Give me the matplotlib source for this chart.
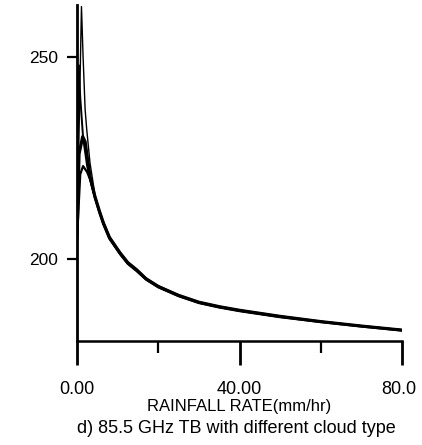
import matplotlib
matplotlib.use("Agg")
import matplotlib.pyplot as plt
from matplotlib.ticker import FixedLocator
from matplotlib.transforms import ScaledTranslation

plt.rcParams['font.family'] = ['Liberation Sans', 'DejaVu Sans']

# Data: 85.5 GHz brightness temperature vs rainfall rate, different cloud types
rain_a = [0.0, 1.1, 1.5, 2.0, 2.4, 3.2, 4.4, 5.5, 6.5, 8.0, 10.6, 12.5, 14.7, 17, 20, 25, 30, 35, 40, 50, 60, 70, 80]
tb_a = [205, 262.5, 250, 237, 232, 223.8, 216.0, 212.2, 209.3, 205.6, 201.7, 199.3, 197.5, 195.3, 193.4, 191.1, 189.4, 188.3, 187.4, 185.9, 184.6, 183.5, 182.5]

rain_b = [0.0, 0.5, 1.4, 2.0, 3.2, 4.4, 5.5, 6.5, 8.0, 10.6, 12.5, 14.7, 17, 20, 25, 30, 35, 40, 50, 60, 70, 80]
tb_b = [205, 226, 230.3, 229, 220.4, 215.5, 211.9, 208.9, 205.3, 201.5, 199.1, 197.3, 195.1, 193.2, 191.0, 189.3, 188.2, 187.3, 185.8, 184.5, 183.4, 182.4]

rain_c = [0.0, 0.8, 1.5, 2.5, 3.5, 4.4, 5.5, 6.5, 8.0, 10.6, 12.5, 14.7, 17, 20, 25, 30, 35, 40, 50, 60, 70, 80]
tb_c = [205, 221, 223, 221.5, 219, 215.2, 211.6, 208.6, 205.0, 201.2, 198.8, 197.0, 194.9, 193.0, 190.8, 189.1, 188.0, 187.1, 185.6, 184.4, 183.3, 182.3]

rain_d = [0.0, 0.4, 0.8, 1.5, 2.5, 3.5, 4.4, 5.5, 6.5, 8.0, 10.6, 12.5, 14.7, 17, 20, 25, 30, 35, 40, 50, 60, 70, 80]
tb_d = [205, 248, 240, 230, 223, 218.5, 215.3, 211.7, 208.7, 205.1, 201.3, 198.9, 197.1, 195.0, 193.1, 190.9, 189.2, 188.1, 187.2, 185.7, 184.5, 183.4, 182.4]

x_major = [0, 40, 80]
x_minor = [20, 60]
x_labels = ["0.00", "40.00", "80.0"]
y_ticks = [200, 250]
y_labels = ["200", "250"]

W, H = 422, 445
fig = plt.figure(figsize=(W / 100, H / 100), dpi=100)
ax = fig.add_axes([77 / W, 1 - 341 / H, 325 / W, (341 - 2.5) / H])

ax.plot(rain_b, tb_b, color='black', lw=2.3, solid_capstyle='round', solid_joinstyle='round')
ax.plot(rain_c, tb_c, color='black', lw=1.6, solid_joinstyle='round')
ax.plot(rain_d, tb_d, color='black', lw=1.4, solid_joinstyle='round')
ax.plot(rain_a, tb_a, color='black', lw=1.0, solid_joinstyle='round')

ax.set_xlim(0, 80)
ax.set_ylim(179.7, 263.5)

for s in ['top', 'right']:
    ax.spines[s].set_visible(False)
ax.spines['left'].set_linewidth(2.0)
ax.spines['bottom'].set_linewidth(1.8)
ax.spines['left'].set_bounds(179.7, 263)

ax.xaxis.set_major_locator(FixedLocator(x_major))
ax.xaxis.set_minor_locator(FixedLocator(x_minor))
ax.set_xticklabels(x_labels)
ax.set_yticks(y_ticks)
ax.set_yticklabels(y_labels)

ax.tick_params(axis='x', which='major', direction='out', length=17.3, width=2.0,
               pad=11.5, labelsize=13)
ax.tick_params(axis='x', which='minor', direction='out', length=8.6, width=1.6)
ax.tick_params(axis='y', which='major', direction='out', length=7, width=1.6,
               pad=6.5, labelsize=12.5)

# the last tick label sits slightly left of its tick, as in the reference
last = ax.get_xticklabels()[-1]
last.set_transform(last.get_transform() + ScaledTranslation(-0.03, 0, fig.dpi_scale_trans))

fig.text(239 / W, 1 - 399 / H, "RAINFALL RATE(mm/hr)", ha='center', va='top',
         fontsize=12)
fig.text(236 / W, 1 - 420 / H, "d) 85.5 GHz TB with different cloud type",
         ha='center', va='top', fontsize=13)

fig.savefig("out.png", dpi=100)
